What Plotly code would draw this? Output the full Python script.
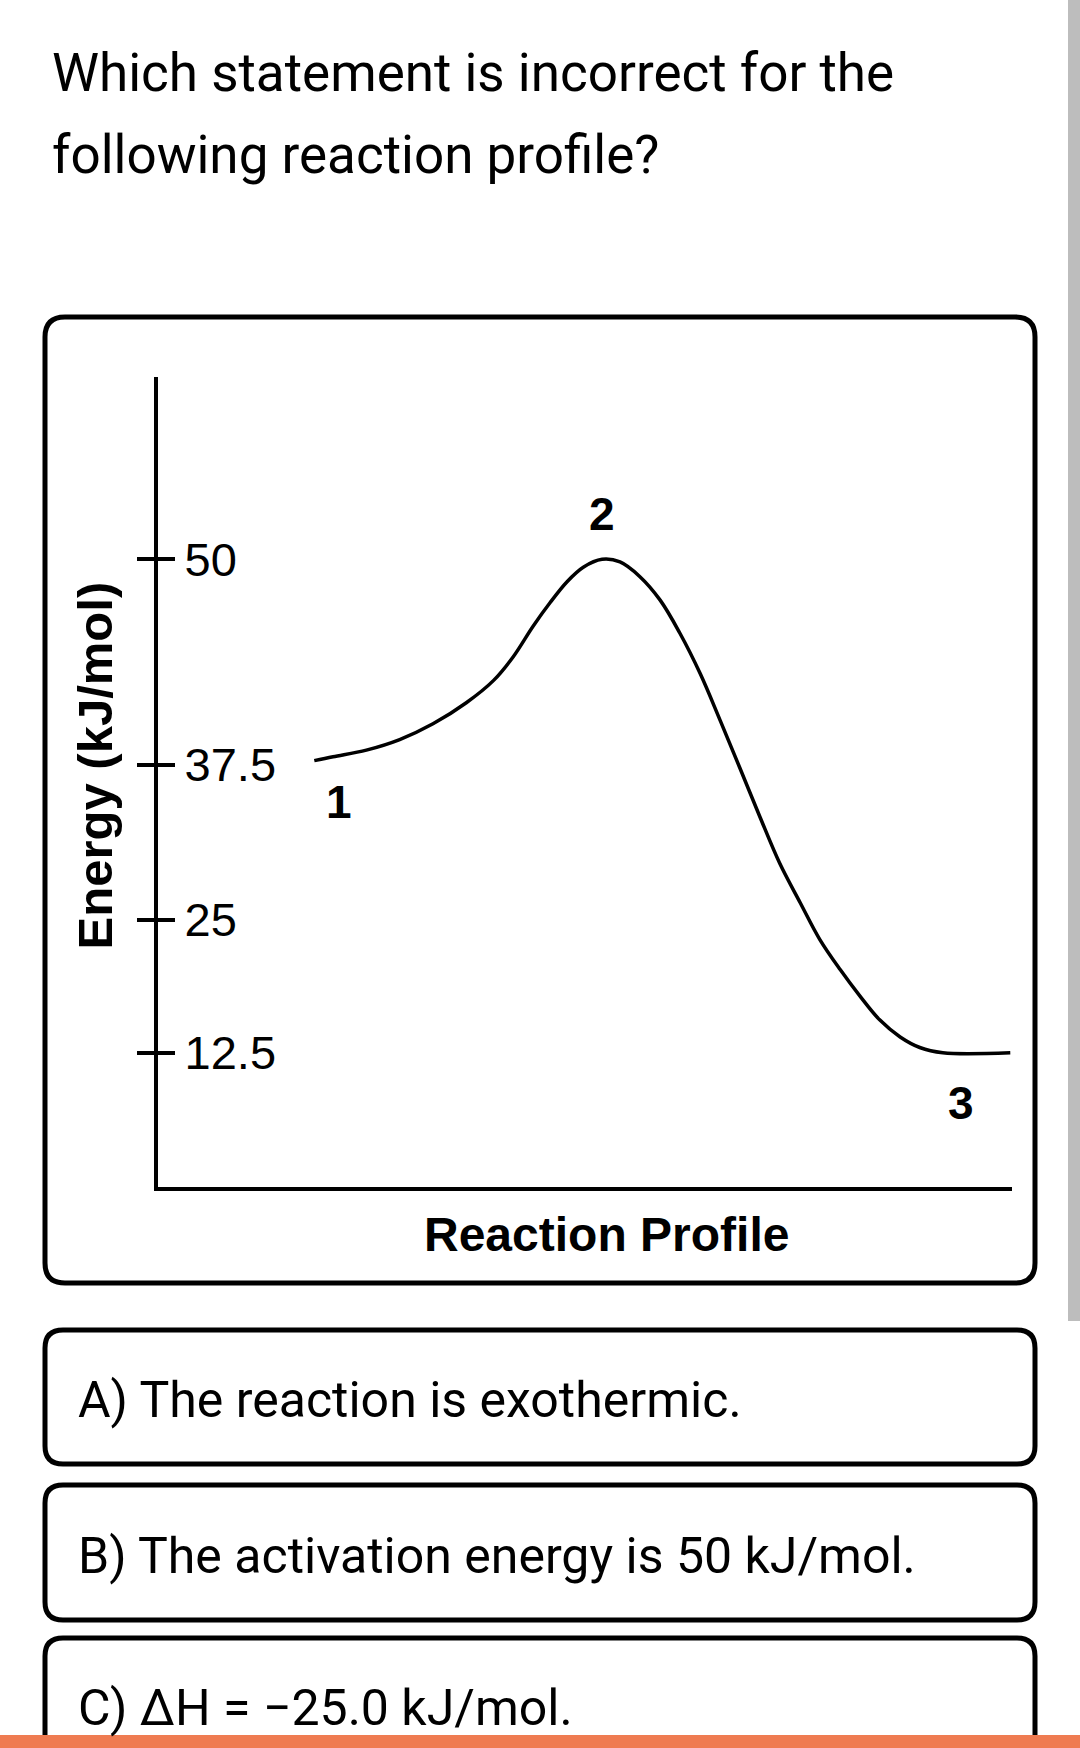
import plotly.graph_objects as go

W, H = 1080, 1748

# ---------------- data ----------------
# reaction progress (0..100 along the x axis) and drawn energy level of the curve
progress = [18.3, 20.5, 24.4, 28.3, 32.2, 36.1, 39.3, 41.6, 43.9, 45.9, 47.9, 49.8, 52.0,
            54.1, 56.4, 58.8, 61.1, 63.5, 65.8, 68.1, 70.5, 72.8, 75.2, 77.5, 79.9, 82.2,
            84.5, 86.9, 89.2, 91.9, 99.8]
energy_level = [34.7, 35.0, 35.5, 36.3, 37.5, 39.1, 40.8, 42.6, 44.9, 46.7, 48.3, 49.4, 50.0,
                49.8, 48.7, 46.9, 44.4, 41.3, 37.8, 34.2, 30.4, 26.9, 23.9, 21.1, 18.8, 16.8,
                15.0, 13.7, 12.9, 12.5, 12.5]

# the sketch's energy ticks are not evenly spaced; these are where they sit on the drawn scale
tick_positions = [50, 34.4, 22.6, 12.5]
tick_labels = ["50", "37.5", "25", "12.5"]

# numbered stages: reactants, transition state, products (index into the curve)
stage_labels = ["1", "2", "3"]
stage_index = [0, 12, 30]

title_lines = ["Which statement is incorrect for the", "following reaction profile?"]
options = ["A) The reaction is exothermic.",
           "B) The activation energy is 50 kJ/mol.",
           "C) \u0394H = \u221225.0 kJ/mol."]

y_axis_title = "Energy (kJ/mol)"
x_axis_title = "Reaction Profile"

# ---------------- helpers ----------------
def px(x):
    return x / W

def py(y):
    return 1 - y / H

def rounded_rect(x0, y0, x1, y1, r):
    pts = [
        f"M {px(x0 + r)},{py(y0)}",
        f"L {px(x1 - r)},{py(y0)}",
        f"Q {px(x1)},{py(y0)} {px(x1)},{py(y0 + r)}",
        f"L {px(x1)},{py(y1 - r)}",
        f"Q {px(x1)},{py(y1)} {px(x1 - r)},{py(y1)}",
        f"L {px(x0 + r)},{py(y1)}",
        f"Q {px(x0)},{py(y1)} {px(x0)},{py(y1 - r)}",
        f"L {px(x0)},{py(y0 + r)}",
        f"Q {px(x0)},{py(y0)} {px(x0 + r)},{py(y0)}",
        "Z",
    ]
    return " ".join(pts)

LABEL_FONT = "Liberation Sans, Arial, sans-serif"
TEXT_FONT = "Roboto, sans-serif"

fig = go.Figure()

fig.add_trace(go.Scatter(
    x=progress, y=energy_level, mode="lines",
    line=dict(color="black", width=3.5, shape="spline", smoothing=1.0, simplify=False),
    hoverinfo="skip", showlegend=False,
))
# invisible trace so the overlaid tick axis is drawn
fig.add_trace(go.Scatter(
    x=[progress[i] for i in stage_index], y=[energy_level[i] for i in stage_index],
    mode="markers", marker=dict(opacity=0), yaxis="y2",
    hoverinfo="skip", showlegend=False,
))

x_dom = [158 / W, 1012 / W]
y_dom = [py(1186.7), py(376.7)]
y_range = [2.32, 63.88]

shapes = []
# chart frame
shapes.append(dict(type="path", path=rounded_rect(45, 317, 1035, 1283, 20), xref="paper", yref="paper",
                   line=dict(color="black", width=5), fillcolor="rgba(0,0,0,0)", layer="below"))
# option frames
for (t, b) in [(1330, 1464), (1485, 1620), (1638, 1790)]:
    shapes.append(dict(type="path", path=rounded_rect(45, t, 1035, b, 18), xref="paper", yref="paper",
                       line=dict(color="black", width=5), fillcolor="rgba(0,0,0,0)", layer="below"))
# scrollbar
shapes.append(dict(type="rect", x0=px(1068), x1=px(1080), y0=py(1321), y1=py(0), xref="paper", yref="paper",
                   line=dict(width=0), fillcolor="#bdbdbd", layer="above"))
# bottom orange bar
shapes.append(dict(type="rect", x0=0, x1=1, y0=0, y1=py(1735), xref="paper", yref="paper",
                   line=dict(width=0), fillcolor="#ef7b51", layer="above"))

annotations = []
# title lines
for line, base in zip(title_lines, [90.7, 173.3]):
    annotations.append(dict(text=line, x=px(50), y=py(base - 0.34 * 53), xref="paper", yref="paper",
                            xanchor="left", yanchor="middle", showarrow=False,
                            font=dict(family=TEXT_FONT, size=53, color="black")))
# options
for opt, base in zip(options, [1417, 1572.5, 1725]):
    annotations.append(dict(text=opt, x=px(76), y=py(base - 0.34 * 50), xref="paper", yref="paper",
                            xanchor="left", yanchor="middle", showarrow=False,
                            font=dict(family=TEXT_FONT, size=50, color="black")))
# axis titles
annotations.append(dict(text=f"<b>{y_axis_title}</b>", x=px(95.4), y=py(765), xref="paper", yref="paper",
                        textangle=-90, xanchor="center", yanchor="middle", showarrow=False,
                        font=dict(family=LABEL_FONT, size=49, color="black")))
annotations.append(dict(text=f"<b>{x_axis_title}</b>", x=px(606), y=py(1251 - 0.3465 * 48), xref="paper", yref="paper",
                        xanchor="center", yanchor="middle", showarrow=False,
                        font=dict(family=LABEL_FONT, size=48, color="black")))
# stage labels
stage_shift = [(25, -41), (0, 45), (-49, -50)]
for lab, idx, (dx, dy) in zip(stage_labels, stage_index, stage_shift):
    annotations.append(dict(text=f"<b>{lab}</b>", x=progress[idx], y=energy_level[idx], xref="x", yref="y",
                            xshift=dx, yshift=dy, xanchor="center", yanchor="middle", showarrow=False,
                            font=dict(family=LABEL_FONT, size=46, color="black")))

fig.update_layout(
    width=W, height=H,
    margin=dict(l=0, r=0, t=0, b=0),
    paper_bgcolor="white", plot_bgcolor="white",
    showlegend=False,
    xaxis=dict(domain=x_dom, range=[0, 100], showline=True, linewidth=4, linecolor="black",
               showgrid=False, zeroline=False, showticklabels=False, ticks="", fixedrange=True),
    yaxis=dict(domain=y_dom, range=y_range, showline=True, linewidth=3.5, linecolor="black",
               showgrid=False, zeroline=False, ticks="outside", ticklen=17, tickwidth=3.5,
               tickcolor="black", tickvals=tick_positions, showticklabels=False, fixedrange=True),
    yaxis2=dict(overlaying="y", side="left", anchor="x", range=y_range, showline=False,
                showgrid=False, zeroline=False, ticks="inside", ticklen=17, tickwidth=3.5,
                tickcolor="black", tickvals=tick_positions, ticktext=tick_labels,
                ticklabelposition="inside", ticklabelstandoff=16,
                tickfont=dict(family=LABEL_FONT, size=47, color="black"), fixedrange=True),
    shapes=shapes,
    annotations=annotations,
)

fig.write_html("out.html", config={"displayModeBar": False},
               post_script="document.body.style.margin='0';document.body.style.padding='0';")
